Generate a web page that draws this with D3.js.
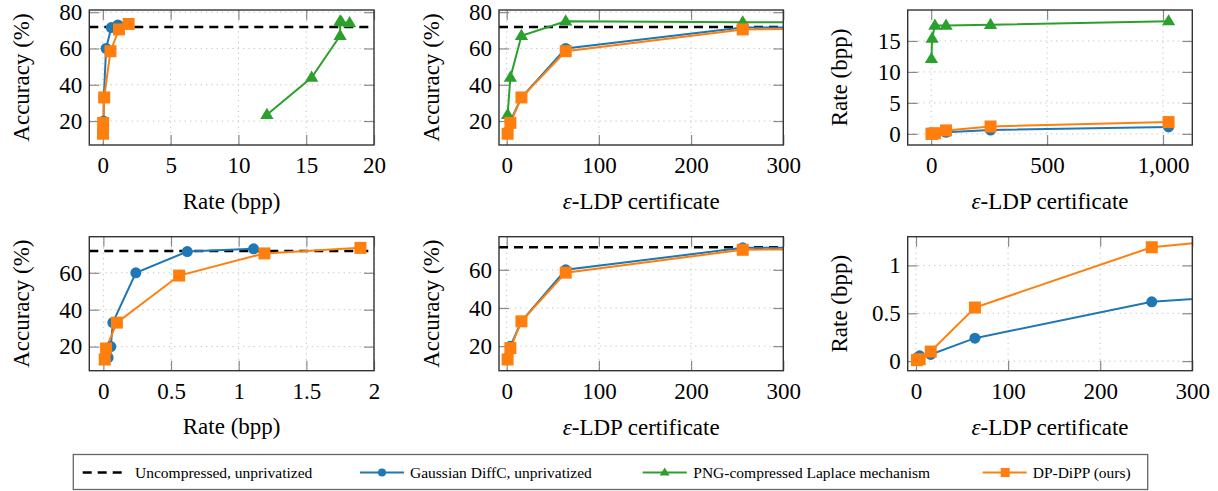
<!DOCTYPE html>
<html>
<head>
<meta charset='utf-8'>
<title>DP-DiPP rate / accuracy / privacy</title>
<script src='https://cdn.jsdelivr.net/npm/d3@7'></script>
<style>
  body { margin: 0; background: #fff; }
  svg text { font-family: "Liberation Serif", "Times New Roman", Times, "DejaVu Serif", serif !important; fill: #000; }
</style>
</head>
<body>
<svg width='1218' height='491' font-family='Liberation Serif, Times New Roman, serif'></svg>
<script>
// privacy levels (epsilon of the LDP certificate)
const eps = [1, 4, 16, 64, 256, 1024]
const baselineAcc = 71.8
// Gaussian DiffC, unprivatized
const gaussRate = [0.035, 0.055, 0.07, 0.24, 0.62, 1.11]
const gaussAcc = [14, 20, 33, 60, 71.5, 73]
// PNG-compressed Laplace mechanism
const pngRate = [12.1, 15.4, 17.5, 17.5, 17.6, 18.2]
const pngAcc = [23.5, 44, 67, 75, 74.5, 74]
// DP-DiPP (ours)
const dippRate = [0.01, 0.02, 0.10, 0.56, 1.19, 1.9]
const dippAcc = [13, 19, 33, 58.5, 70.5, 73.5]

const legendLabels = ['Uncompressed, unprivatized', 'Gaussian DiffC, unprivatized',
  'PNG-compressed Laplace mechanism', 'DP-DiPP (ours)']

const colors = { gauss: '#1f77b4', png: '#2ca02c', dipp: '#ff7f0e' }
const series = [
  { key: 'gauss', rate: gaussRate, acc: gaussAcc, marker: 'circle' },
  { key: 'png', rate: pngRate, acc: pngAcc, marker: 'triangle' },
  { key: 'dipp', rate: dippRate, acc: dippAcc, marker: 'square' }
]

const FONT = '"Liberation Serif", "Times New Roman", serif'
const svg = d3.select('svg')
const cols = [[89.3, 374], [499, 783.3], [907.7, 1192.3]]
const rows = [[10, 145], [236.7, 370.7]]

const panels = [
  { col: 0, row: 0, x: 'rate', y: 'acc', xd: [-1, 20], yd: [6.8, 81.2], xt: [0, 5, 10, 15, 20], yt: [20, 40, 60, 80], keys: ['gauss', 'png', 'dipp'], base: true, xl: 'Rate (bpp)', yl: 'Accuracy (%)' },
  { col: 1, row: 0, x: 'eps', y: 'acc', xd: [-8.35, 300], yd: [6.8, 81.2], xt: [0, 100, 200, 300], yt: [20, 40, 60, 80], keys: ['gauss', 'png', 'dipp'], base: true, xl: 'eps', yl: 'Accuracy (%)' },
  { col: 2, row: 0, x: 'eps', y: 'rate', xd: [-101.3, 1126.3], yd: [-1.8, 20], xt: [0, 500, 1000], yt: [0, 5, 10, 15], keys: ['gauss', 'png', 'dipp'], base: false, xl: 'eps', yl: 'Rate (bpp)' },
  { col: 0, row: 1, x: 'rate', y: 'acc', xd: [-0.104, 2.0], yd: [6.95, 79.55], xt: [0, 0.5, 1, 1.5, 2], yt: [20, 40, 60], keys: ['gauss', 'dipp'], base: true, xl: 'Rate (bpp)', yl: 'Accuracy (%)' },
  { col: 1, row: 1, x: 'eps', y: 'acc', xd: [-8.35, 300], yd: [7.15, 77.35], xt: [0, 100, 200, 300], yt: [20, 40, 60], keys: ['gauss', 'dipp'], base: true, xl: 'eps', yl: 'Accuracy (%)' },
  { col: 2, row: 1, x: 'eps', y: 'rate', xd: [-9, 300], yd: [-0.1, 1.3], xt: [0, 100, 200, 300], yt: [0, 0.5, 1], keys: ['gauss', 'dipp'], base: false, xl: 'eps', yl: 'Rate (bpp)' }
]

const fmt = v => v >= 1000 ? d3.format(',')(v) : String(v)

function drawMarker(g, type, x, y, color) {
  if (type === 'circle') {
    g.append('circle').attr('cx', x).attr('cy', y).attr('r', 5.5).attr('fill', color)
  } else if (type === 'square') {
    g.append('rect').attr('x', x - 6).attr('y', y - 6).attr('width', 12).attr('height', 12).attr('fill', color)
  } else {
    const s = 7
    g.append('path').attr('d', `M${x},${y - s}L${x + s * 0.95},${y + s * 0.6}L${x - s * 0.95},${y + s * 0.6}Z`).attr('fill', color)
  }
}

panels.forEach((p, i) => {
  const [x0, x1] = cols[p.col]
  const [y0, y1] = rows[p.row]
  const xs = d3.scaleLinear().domain(p.xd).range([x0, x1])
  const ys = d3.scaleLinear().domain(p.yd).range([y1, y0])
  const g = svg.append('g')

  // dotted grid
  g.append('g').selectAll('line').data(p.xt).enter().append('line')
    .attr('x1', d => xs(d)).attr('x2', d => xs(d)).attr('y1', y0).attr('y2', y1)
    .attr('stroke', '#c4c4c4').attr('stroke-dasharray', '1.3,4').attr('stroke-width', 1)
  g.append('g').selectAll('line').data(p.yt).enter().append('line')
    .attr('y1', d => ys(d)).attr('y2', d => ys(d)).attr('x1', x0).attr('x2', x1)
    .attr('stroke', '#c4c4c4').attr('stroke-dasharray', '1.3,4').attr('stroke-width', 1)

  // axes with inward ticks on all sides
  const styleAxis = a => {
    a.attr('font-family', FONT)
    a.select('.domain').remove()
    a.selectAll('.tick line').attr('stroke', '#8a8a8a').attr('stroke-width', 1.2)
    a.selectAll('.tick text').attr('font-size', 23).style('font-family', FONT)
  }
  g.append('g').attr('transform', `translate(0,${y1})`)
    .call(d3.axisBottom(xs).tickValues(p.xt).tickFormat(fmt).tickSizeInner(-10).tickSizeOuter(0).tickPadding(12))
    .call(styleAxis)
  g.append('g').attr('transform', `translate(0,${y0})`)
    .call(d3.axisTop(xs).tickValues(p.xt).tickFormat('').tickSizeInner(-10).tickSizeOuter(0))
    .call(styleAxis)
  g.append('g').attr('transform', `translate(${x0},0)`)
    .call(d3.axisLeft(ys).tickValues(p.yt).tickFormat(fmt).tickSizeInner(-10).tickSizeOuter(0).tickPadding(7))
    .call(styleAxis)
  g.append('g').attr('transform', `translate(${x1},0)`)
    .call(d3.axisRight(ys).tickValues(p.yt).tickFormat('').tickSizeInner(-10).tickSizeOuter(0))
    .call(styleAxis)

  // clip area
  const cid = 'clip' + i
  svg.append('defs').append('clipPath').attr('id', cid)
    .append('rect').attr('x', x0).attr('y', y0).attr('width', x1 - x0).attr('height', y1 - y0)
  const plot = g.append('g').attr('clip-path', `url(#${cid})`)

  if (p.base) {
    plot.append('line').attr('x1', x0).attr('x2', x1)
      .attr('y1', ys(baselineAcc)).attr('y2', ys(baselineAcc))
      .attr('stroke', '#000').attr('stroke-width', 2.4).attr('stroke-dasharray', '9,6')
  }

  series.filter(s => p.keys.includes(s.key)).forEach(s => {
    const pts = eps.map((e, j) => ({ x: p.x === 'eps' ? e : s.rate[j], y: p.y === 'acc' ? s.acc[j] : s.rate[j] }))
    const line = d3.line().x(d => xs(d.x)).y(d => ys(d.y))
    plot.append('path').attr('d', line(pts)).attr('fill', 'none')
      .attr('stroke', colors[s.key]).attr('stroke-width', 2)
    const mg = g.append('g')
    pts.filter(d => d.x >= p.xd[0] && d.x <= p.xd[1])
      .forEach(d => drawMarker(mg, s.marker, xs(d.x), ys(d.y), colors[s.key]))
  })

  // frame
  g.append('rect').attr('x', x0).attr('y', y0).attr('width', x1 - x0).attr('height', y1 - y0)
    .attr('fill', 'none').attr('stroke', '#333').attr('stroke-width', 1.4)

  // axis labels
  const xl = g.append('text').attr('x', (x0 + x1) / 2).attr('y', y1 + 56)
    .attr('text-anchor', 'middle').attr('dominant-baseline', 'central').attr('font-size', 23)
    .style('font-family', FONT)
  if (p.xl === 'eps') {
    xl.append('tspan').attr('font-style', 'italic').text('ε')
    xl.append('tspan').text('-LDP certificate')
  } else {
    xl.text(p.xl)
  }
  g.append('text').attr('transform', `translate(${x0 - 68},${(y0 + y1) / 2}) rotate(-90)`)
    .attr('text-anchor', 'middle').attr('dominant-baseline', 'central').attr('font-size', 23)
    .style('font-family', FONT)
    .text(p.yl)
})

// legend
const lg = svg.append('g')
lg.append('rect').attr('x', 73.3).attr('y', 454.5).attr('width', 1074.4).attr('height', 35)
  .attr('fill', '#fff').attr('stroke', '#666').attr('stroke-width', 1.3)
const ly = 472.5
const items = [
  { x: 82.7, tx: 135, type: 'base' },
  { x: 360, tx: 410, key: 'gauss', marker: 'circle' },
  { x: 642.7, tx: 693.3, key: 'png', marker: 'triangle' },
  { x: 982.7, tx: 1032.7, key: 'dipp', marker: 'square' }
]
items.forEach((it, i) => {
  if (it.type === 'base') {
    lg.append('line').attr('x1', it.x).attr('x2', it.x + 39).attr('y1', ly).attr('y2', ly)
      .attr('stroke', '#000').attr('stroke-width', 2.4).attr('stroke-dasharray', '9,6')
  } else {
    lg.append('line').attr('x1', it.x).attr('x2', it.x + 44).attr('y1', ly).attr('y2', ly)
      .attr('stroke', colors[it.key]).attr('stroke-width', 2)
    const m = lg.append('g')
    if (it.marker === 'circle') m.append('circle').attr('cx', it.x + 22).attr('cy', ly).attr('r', 4).attr('fill', colors[it.key])
    else if (it.marker === 'square') m.append('rect').attr('x', it.x + 18).attr('y', ly - 4.5).attr('width', 9).attr('height', 9).attr('fill', colors[it.key])
    else m.append('path').attr('d', `M${it.x + 22},${ly - 5}L${it.x + 27},${ly + 3}L${it.x + 17},${ly + 3}Z`).attr('fill', colors[it.key])
  }
  lg.append('text').attr('x', it.tx).attr('y', ly).attr('dominant-baseline', 'central')
    .attr('font-size', 15.5).style('font-family', FONT).text(legendLabels[i])
})
</script>
</body>
</html>
